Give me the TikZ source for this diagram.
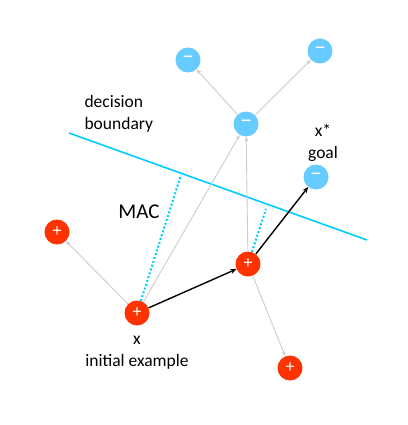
\documentclass[tikz,border=0pt]{standalone}
\usepackage{fontspec}
\setmainfont{Carlito}
\usetikzlibrary{arrows.meta, positioning, calc}
\definecolor{posred}{HTML}{FF3300}
\definecolor{negblue}{HTML}{66CCFF}
\definecolor{bound}{HTML}{00CCFF}
\definecolor{lightgrey}{HTML}{CCCCCC}
\tikzset{
  ptnode/.style={circle, minimum size=25pt, inner sep=0pt, text=white, font=\fontsize{18}{18}\selectfont},
  posnode/.style={ptnode, fill=posred},
  negnode/.style={ptnode, fill=negblue, font=\fontsize{24}{24}\selectfont},
  arrowg/.style={-{Stealth[length=5pt, width=4pt]}, line width=0.9pt, lightgrey},
  arrowb/.style={-{Stealth[length=6pt, width=5pt]}, line width=1.4pt, black},
  macline/.style={dotted, line width=2pt, bound, line cap=butt},
  lbl/.style={font=\fontsize{17.5}{22}\selectfont, align=center},
}

\begin{document}
\begin{tikzpicture}[x=1pt, y=-1pt]
\useasboundingbox (0,0) rectangle (407,425);
% points
\node[posnode] (x) at (137,313) {+};
\node[posnode] (xp) at (248,264) {+};
\node[posnode] (l) at (57,232) {+};
\node[posnode] (b) at (290,368) {+};
\node[negnode] (m) at (246,124) {--};
\node[negnode] (tl) at (188,60) {--};
\node[negnode] (tr) at (320,51) {--};
\node[negnode] (g) at (316,177) {--};
% decision boundary
\coordinate (db1) at (69,133);
\coordinate (db2) at (367,240);
\draw[bound, line width=1.6pt] (db1) -- (db2);
\coordinate (f1) at (181,175);
\coordinate (f2) at (266,209);
% margins
\draw[macline] (x) -- (f1);
\draw[macline] (xp) -- (f2);
% neighbours
\draw[arrowg] (x) -- (l);
\draw[arrowg] (x) -- (m);
\draw[arrowg] (xp) -- (m);
\draw[arrowg] (xp) -- (b);
\draw[arrowg] (m) -- (tl);
\draw[arrowg] (m) -- (tr);
% path
\draw[arrowb] (x) -- (xp);
\draw[arrowb] (xp) -- (g);
% labels
\node[lbl, align=left, anchor=west] (dbl) at (81,114) {decision\\boundary};
\node[lbl] (gl) at (323,143) {x*\\goal};
\node[lbl, font=\fontsize{21}{22}\selectfont] (mac) at (139,212) {MAC};
\node[lbl] (xl) at (137,353) {x\\initial example};
\end{tikzpicture}
\end{document}
